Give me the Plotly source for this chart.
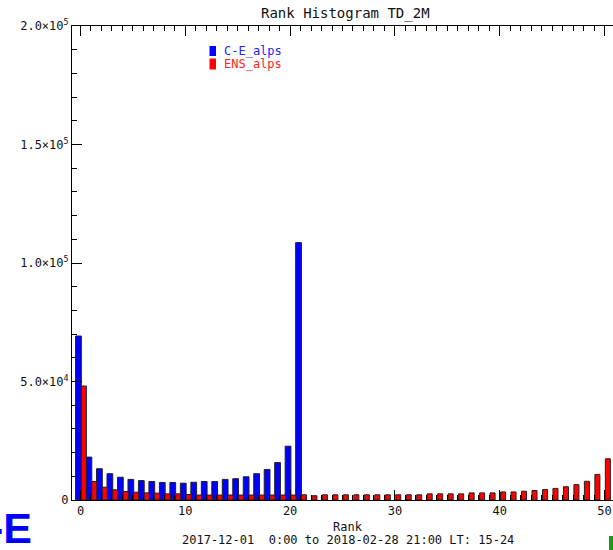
import plotly.graph_objects as go

# ---- data ----
ranks_ce = list(range(0, 22))
ce_alps = [69200, 18100, 13200, 11100, 9600, 8700, 8200, 7800, 7400, 7400,
           7100, 7500, 7800, 7800, 8700, 9000, 9800, 11100, 12900, 15800,
           22700, 108600]
ranks_ens = list(range(0, 51))
ens_alps = [48100, 7800, 5400, 4300, 3600, 3300, 3000, 2900, 2600, 2600,
            2300, 2100, 2100, 2100, 2100, 2100, 2100, 2100, 2100, 2100,
            2100, 2200, 1800, 2200, 2200, 2200, 2200, 2200, 2200, 2200,
            2200, 2200, 2200, 2600, 2600, 2600, 2600, 3000, 3000, 3000,
            3400, 3400, 3700, 4000, 4400, 4900, 5600, 6500, 7900, 10800,
            17400]
ytick_vals = [0, 50000, 100000, 150000, 200000]
ytick_text = ["0", "5.0\u00d710<sup>4</sup>", "1.0\u00d710<sup>5</sup>",
              "1.5\u00d710<sup>5</sup>", "2.0\u00d710<sup>5</sup>"]
xtick_vals = [0, 10, 20, 30, 40, 50]
title_text = "Rank Histogram TD_2M"
xlabel_text = "Rank"
sub_text = "2017-12-01  0:00 to 2018-02-28 21:00 LT: 15-24"
names = ["C-E_alps", "ENS_alps"]

W, H = 613, 550
L, R, T, B = 72, 0, 26, 50
PW, PH = W - L - R, H - T - B
FONT = "DejaVu Sans Mono"


def px_x(p):
    return (p - L) / PW


def px_y(p):
    return (H - B - p) / PH


fig = go.Figure()
fig.add_trace(go.Bar(x=ranks_ce, y=ce_alps, name=names[0], width=0.55, offset=-0.47,
                     marker=dict(color="#0000ff", line=dict(color="#222222", width=1))))
fig.add_trace(go.Bar(x=ranks_ens, y=ens_alps, name=names[1], width=0.48, offset=0.08,
                     marker=dict(color="#ff0000", line=dict(color="#222222", width=1))))

axis_common = dict(showline=True, linecolor="black", linewidth=1, showgrid=False,
                   zeroline=False, ticks="inside", ticklen=10, tickcolor="black",
                   tickfont=dict(family=FONT, size=12, color="#111111"))

fig.update_xaxes(range=[-0.81, 50.81], tickmode="array", tickvals=xtick_vals,
                 mirror="ticks",
                 minor=dict(tickmode="linear", tick0=0, dtick=1, ticks="inside",
                            ticklen=5, tickcolor="black", showgrid=False),
                 **axis_common)
fig.update_yaxes(range=[0, 200000], tickmode="array", tickvals=ytick_vals,
                 ticktext=ytick_text, mirror=False,
                 minor=dict(tickmode="linear", tick0=0, dtick=10000, ticks="inside",
                            ticklen=5, tickcolor="black", showgrid=False),
                 **axis_common)

annotations = [
    dict(text=title_text, x=px_x(345), y=px_y(13.5), xref="paper", yref="paper",
         showarrow=False, xanchor="center", yanchor="middle",
         font=dict(family=FONT, size=14, color="#111111")),
    dict(text=xlabel_text, x=px_x(347.5), y=px_y(527), xref="paper", yref="paper",
         showarrow=False, xanchor="center", yanchor="middle",
         font=dict(family=FONT, size=12, color="#111111")),
    dict(text=sub_text, x=px_x(348), y=px_y(539.5), xref="paper", yref="paper",
         showarrow=False, xanchor="center", yanchor="middle",
         font=dict(family=FONT, size=12, color="#111111")),
    dict(text=names[0], x=px_x(222), y=px_y(51), xref="paper", yref="paper",
         showarrow=False, xanchor="left", yanchor="middle",
         font=dict(family=FONT, size=12, color="#2222ff")),
    dict(text=names[1], x=px_x(222), y=px_y(64), xref="paper", yref="paper",
         showarrow=False, xanchor="left", yanchor="middle",
         font=dict(family=FONT, size=12, color="#ff2222")),
    dict(text="<b>C-E</b>", x=px_x(34), y=px_y(528), xref="paper", yref="paper",
         showarrow=False, xanchor="right", yanchor="middle",
         font=dict(family="Liberation Sans", size=43, color="#0000ff")),
]

shapes = [
    dict(type="rect", xref="paper", yref="paper", x0=px_x(209.5), x1=px_x(216),
         y0=px_y(46), y1=px_y(56), fillcolor="#0000ff", line=dict(width=0)),
    dict(type="rect", xref="paper", yref="paper", x0=px_x(209.5), x1=px_x(216),
         y0=px_y(58.5), y1=px_y(69.5), fillcolor="#ff0000", line=dict(width=0)),
    dict(type="rect", xref="paper", yref="paper", x0=px_x(609), x1=px_x(614),
         y0=px_y(536), y1=px_y(551), fillcolor="#1a9a1a", line=dict(width=0)),
]

fig.update_layout(width=W, height=H, margin=dict(l=L, r=R, t=T, b=B, pad=0),
                  paper_bgcolor="white", plot_bgcolor="white", barmode="overlay",
                  showlegend=False, annotations=annotations, shapes=shapes)

fig.write_html("out.html")
